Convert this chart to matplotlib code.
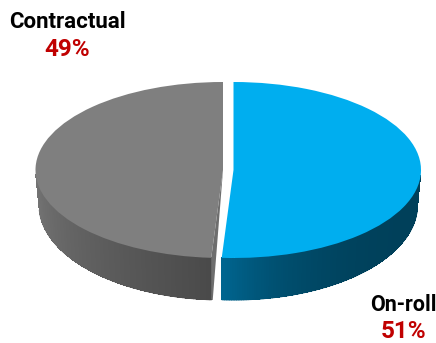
import numpy as np
import matplotlib
matplotlib.use("Agg")
import matplotlib.pyplot as plt
from matplotlib.patches import Wedge, Polygon
from matplotlib.colors import to_rgb
from matplotlib.transforms import Affine2D

labels = ["On-roll", "Contractual"]
shares = [51, 49]
pct_labels = ["51%", "49%"]

plt.rcParams['font.family'] = ['Roboto', 'DejaVu Sans']

fig = plt.figure(figsize=(4.36, 3.43), dpi=100)
ax = fig.add_axes([0, 0, 1, 1])
ax.set_xlim(0, 436)
ax.set_ylim(343, 0)
ax.axis("off")

# top face ellipse and the (slightly different) bottom rim ellipse
rx, ry, cy = 187.5, 88, 170
rx2, ry2, cy2 = 184, 95, 205
cx_blue, cx_gray = 233.5, 223


def wall(cx, t0, t1, c0, c1, power=1.0, n=120):
    # side of the pie as thin quads, colour runs from c0 to c1
    ts = np.radians(np.linspace(t0, t1, n + 1))
    c0, c1 = np.array(to_rgb(c0)), np.array(to_rgb(c1))
    for i in range(n):
        a, b = ts[i], ts[i + 1]
        pts = [(cx + rx * np.cos(a), cy + ry * np.sin(a)), (cx + rx * np.cos(b), cy + ry * np.sin(b)),
               (cx + rx2 * np.cos(b), cy2 + ry2 * np.sin(b)), (cx + rx2 * np.cos(a), cy2 + ry2 * np.sin(a))]
        col = c0 + (c1 - c0) * (i / (n - 1)) ** power
        ax.add_patch(Polygon(pts, closed=True, fc=col, ec="none", antialiased=False))
        # thin line on the outer rim keeps that edge smooth
        ax.plot([pts[3][0], pts[2][0]], [pts[3][1], pts[2][1]], color=col, lw=0.7, solid_capstyle="round")


# angles go clockwise on screen because y is flipped, first slice starts at the top
split = -90 + 360 * shares[0] / sum(shares)
sr = np.radians(split)

wall(cx_blue, 3, split, "#00405a", "#00658f", power=4)
wall(cx_gray, 177, split, "#757575", "#4a4a4a")

# cut face of the grey slice
rim_x, rim_y = cx_gray + rx * np.cos(sr), cy + ry * np.sin(sr)
ax.add_patch(Polygon([(cx_gray, cy), (rim_x, rim_y), (rim_x, cy2 + ry2), (rim_x + 1.5, cy2 + ry2)],
                     closed=True, fc="#6e6e6e", ec="none"))

for cx, t0, t1, col in [(cx_blue, -90, split, "#00aeef"), (cx_gray, split, 270, "#7f7f7f")]:
    tr = Affine2D().scale(rx, ry).translate(cx, cy) + ax.transData
    ax.add_patch(Wedge((0, 0), 1, t0, t1, fc=col, ec="none", transform=tr))

ax.text(67, 22, labels[1], ha="center", va="center", fontsize=16, fontweight="bold", color="black")
ax.text(67, 50, pct_labels[1], ha="center", va="center", fontsize=17.5, fontweight="bold", color="#c00000")
ax.text(403, 305, labels[0], ha="center", va="center", fontsize=15.5, fontweight="bold", color="black")
ax.text(403, 332, pct_labels[0], ha="center", va="center", fontsize=17.5, fontweight="bold", color="#c00000")

fig.savefig("out.png", dpi=100)
